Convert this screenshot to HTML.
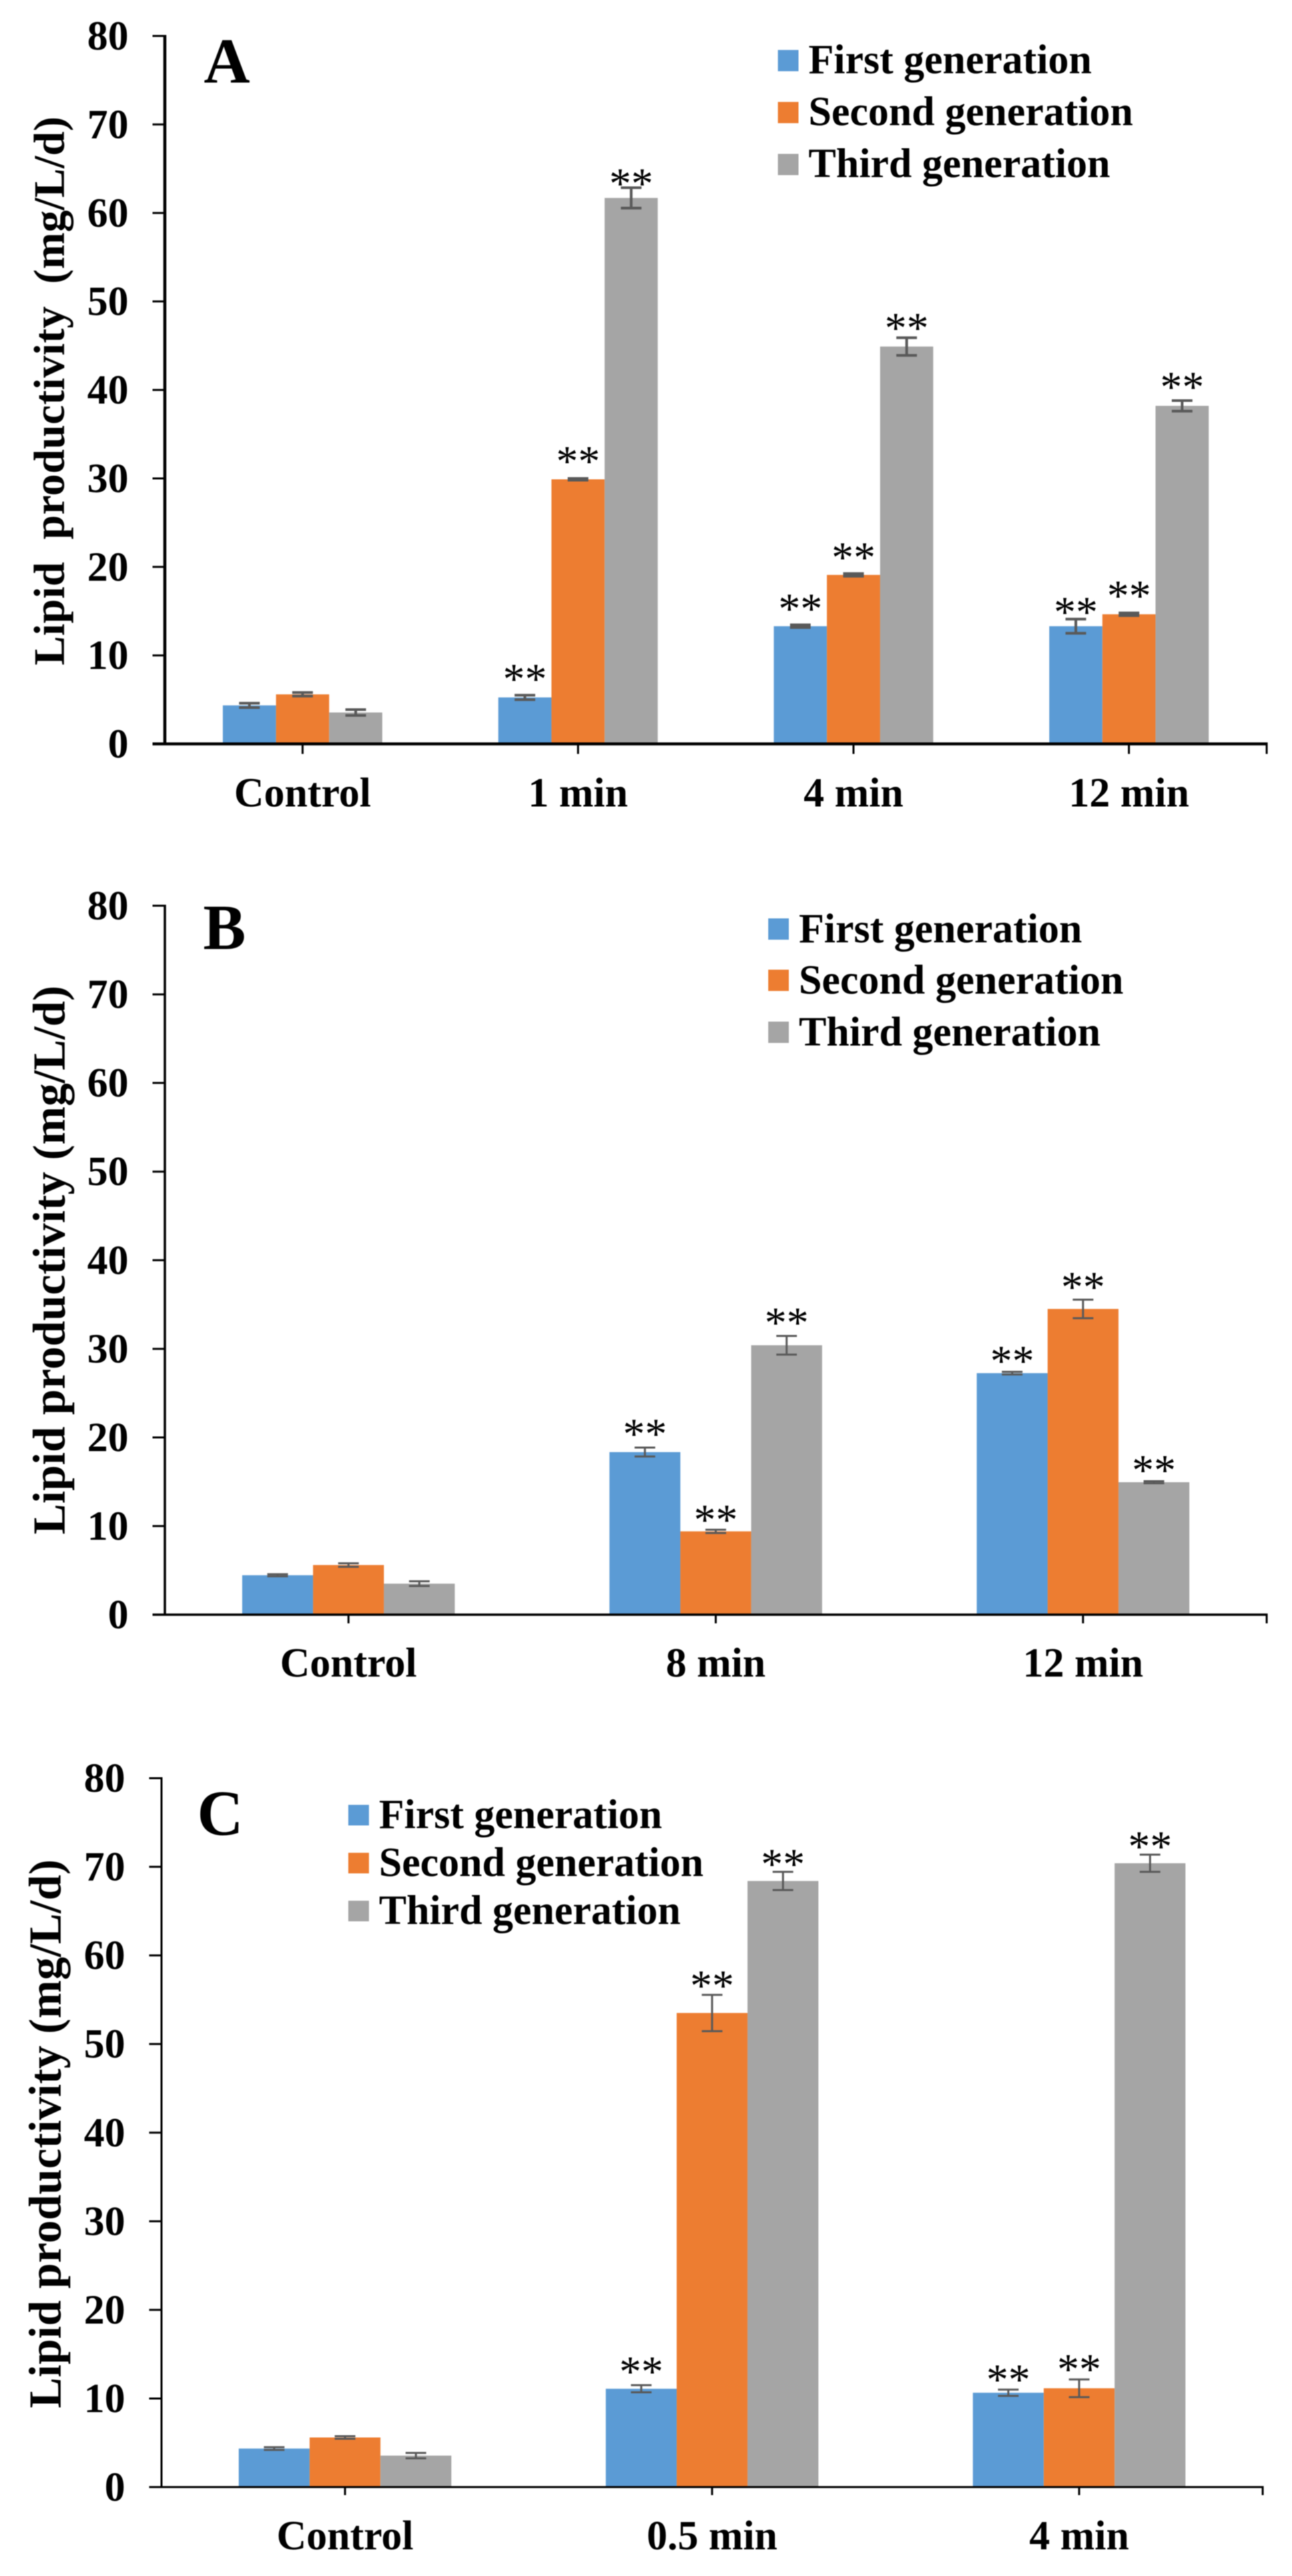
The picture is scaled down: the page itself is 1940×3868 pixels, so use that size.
<!DOCTYPE html>
<html lang="en">
<head>
<meta charset="utf-8">
<title>Lipid productivity by generation</title>
<style>
html,body{margin:0;padding:0;background:#fff;width:1940px;height:3868px;overflow:hidden}
svg{display:block;filter:blur(0.7px)}
text{font-family:"Liberation Serif",serif;fill:#000}
.b{font-weight:bold}
</style>
</head>
<body>
<svg id="fig" xmlns="http://www.w3.org/2000/svg" width="1940" height="3868" viewBox="0 0 1940 3868"></svg>
<script>
// Shared axis and legend data
const yTickLabels = [0, 10, 20, 30, 40, 50, 60, 70, 80];
const seriesNames = ['First generation', 'Second generation', 'Third generation'];
const yAxisMaximum = 80;

// Panel A
const panelACategories = ['Control', '1 min', '4 min', '12 min'];
const panelAFirst = [4.35, 5.25, 13.3, 13.3];
const panelASecond = [5.6, 29.9, 19.1, 14.65];
const panelAThird = [3.55, 61.7, 44.9, 38.2];
const panelAFirstErr = [0.25, 0.25, 0.15, 0.8];
const panelASecondErr = [0.2, 0.1, 0.15, 0.15];
const panelAThirdErr = [0.33, 1.15, 1.0, 0.6];
const panelAFirstStarLift = [null, 1.5, 1.5, 0.45];
const panelASecondStarLift = [null, 1.6, 1.5, 1.6];
const panelAThirdStarLift = [null, 0.15, 0.75, 1.2];

// Panel B
const panelBCategories = ['Control', '8 min', '12 min'];
const panelBFirst = [4.45, 18.35, 27.25];
const panelBSecond = [5.6, 9.4, 34.5];
const panelBThird = [3.5, 30.4, 14.95];
const panelBFirstErr = [0.12, 0.5, 0.15];
const panelBSecondErr = [0.2, 0.18, 1.05];
const panelBThirdErr = [0.27, 1.05, 0.12];
const panelBFirstStarLift = [null, 1.2, 0.9];
const panelBSecondStarLift = [null, 0.8, 1.1];
const panelBThirdStarLift = [null, 1.15, 0.9];

// Panel C
const panelCCategories = ['Control', '0.5 min', '4 min'];
const panelCFirst = [4.35, 11.1, 10.65];
const panelCSecond = [5.6, 53.5, 11.15];
const panelCThird = [3.55, 68.4, 70.4];
const panelCFirstErr = [0.15, 0.4, 0.35];
const panelCSecondErr = [0.15, 2.05, 1.0];
const panelCThirdErr = [0.3, 1.03, 0.97];
const panelCFirstStarLift = [null, 1.2, 0.8];
const panelCSecondStarLift = [null, 0.7, 0.8];
const panelCThirdStarLift = [null, 0.55, 0.6];

const seriesColors = ['#5B9BD5', '#ED7D31', '#A5A5A5'];
const NS = 'http://www.w3.org/2000/svg';
const fig = document.getElementById('fig');

function make(parent, tag, attrs, txt) {
  const el = document.createElementNS(NS, tag);
  for (const k in attrs) el.setAttribute(k, attrs[k]);
  if (txt !== undefined) el.textContent = txt;
  parent.appendChild(el);
  return el;
}

function drawPanel(cfg) {
  const g = make(fig, 'g', {});
  
  

  const yScale = v => cfg.y0 - (v / yAxisMaximum) * (cfg.y0 - cfg.y80);
  const band = (cfg.xRight - cfg.xAxis) / cfg.categories.length;
  const xCenter = i => cfg.xAxis + band * (i + 0.5);

  // Bars first, so that axes sit on top
  cfg.series.forEach((vals, s) => {
    vals.forEach((v, i) => {
      const x = xCenter(i) + (s - 1.5) * cfg.barW;
      const bar = make(g, 'rect', {x: x, y: yScale(v), width: cfg.barW, height: cfg.y0 - yScale(v), fill: seriesColors[s]});
      
      
    });
  });

  // Error bars and significance stars
  cfg.series.forEach((vals, s) => {
    vals.forEach((v, i) => {
      const cx = xCenter(i) + (s - 1) * cfg.barW;
      const e = cfg.errors[s][i];
      const hi = yScale(v + e);
      const lo = yScale(v - e);
      const eg = make(g, 'path', {d: 'M' + (cx - 15.5) + ' ' + hi + 'H' + (cx + 15.5) + 'M' + cx + ' ' + hi + 'V' + lo + 'M' + (cx - 15.5) + ' ' + lo + 'H' + (cx + 15.5), stroke: '#595959', 'stroke-width': cfg.errW, fill: 'none'});
      
      
      const lift = cfg.lifts[s][i];
      if (lift !== null) {
        const star = make(g, 'text', {x: cx, y: yScale(v + e + lift) + 17.5, 'text-anchor': 'middle', 'font-size': 66}, '**');
        
        
      }
    });
  });

  // Y axis
  const yAxis = make(g, 'line', {x1: cfg.xAxis, x2: cfg.xAxis, y1: cfg.y80 - 1.5, y2: cfg.y0 + 1.5, stroke: '#000', 'stroke-width': cfg.axisW});
  
  
  yTickLabels.forEach(t => {
    const y = yScale(t);
    const tick = make(g, 'line', {x1: cfg.xAxis - 18.5, x2: cfg.xAxis, y1: y, y2: y, stroke: '#000', 'stroke-width': 3});
    
    
    const lab = make(g, 'text', {x: cfg.xAxis - 54.5, y: y + 20.5, 'text-anchor': 'end', 'font-size': 62, class: 'b'}, String(t));
    
    
  });

  // X axis
  const xAxis = make(g, 'line', {x1: cfg.xAxis - 18.5, x2: cfg.xRight + 1.5, y1: cfg.y0, y2: cfg.y0, stroke: '#000', 'stroke-width': cfg.axisW});
  
  
  const endTick = make(g, 'line', {x1: cfg.xRight, x2: cfg.xRight, y1: cfg.y0, y2: cfg.y0 + cfg.tickLen, stroke: '#000', 'stroke-width': 3});
  
  
  cfg.categories.forEach((c, i) => {
    const tick = make(g, 'line', {x1: xCenter(i), x2: xCenter(i), y1: cfg.y0, y2: cfg.y0 + cfg.tickLen, stroke: '#000', 'stroke-width': 3});
    
    
    const lab = make(g, 'text', {x: xCenter(i), y: cfg.xLabelY, 'text-anchor': 'middle', 'font-size': 62, class: 'b'}, c);
    
    
  });

  // Y axis title
  const title = make(g, 'text', {transform: 'translate(' + cfg.titleX + ' ' + cfg.titleY + ') rotate(-90)', 'text-anchor': 'middle', 'font-size': cfg.titleSize, class: 'b', textLength: 824, lengthAdjust: 'spacing', style: 'white-space:pre'}, cfg.titleText);
  
  

  // Panel letter
  const letter = make(g, 'text', {x: cfg.letterX, y: cfg.letterY, 'font-size': 96, class: 'b'}, cfg.id);
  
  

  // Legend
  const leg = make(g, 'g', {});
  
  
  seriesNames.forEach((n, s) => {
    const swatch = make(leg, 'rect', {x: cfg.legX, y: cfg.legY[s] - cfg.swatchDrop, width: 31, height: cfg.swatchH, fill: seriesColors[s]});
    
    
    const lt = make(leg, 'text', {x: cfg.legX + 46, y: cfg.legY[s], 'font-size': 62, class: 'b'}, n);
    
    
  });
}

drawPanel({
  id: 'A', categories: panelACategories,
  series: [panelAFirst, panelASecond, panelAThird],
  errors: [panelAFirstErr, panelASecondErr, panelAThirdErr],
  lifts: [panelAFirstStarLift, panelASecondStarLift, panelAThirdStarLift],
  xAxis: 247.5, xRight: 1902, y0: 1117, y80: 54, barW: 79.8, axisW: 4.5, errW: 4, tickLen: 15, xLabelY: 1211,
  titleX: 96, titleY: 587, titleSize: 66, titleText: 'Lipid  productivity  (mg/L/d)',
  letterX: 306, letterY: 124, legX: 1168, legY: [110, 188, 266], swatchDrop: 35, swatchH: 32
});
drawPanel({
  id: 'B', categories: panelBCategories,
  series: [panelBFirst, panelBSecond, panelBThird],
  errors: [panelBFirstErr, panelBSecondErr, panelBThirdErr],
  lifts: [panelBFirstStarLift, panelBSecondStarLift, panelBThirdStarLift],
  xAxis: 247.5, xRight: 1902, y0: 2424.5, y80: 1360, barW: 106.4, axisW: 3.5, errW: 3, tickLen: 13, xLabelY: 2517.5,
  titleX: 97, titleY: 1892, titleSize: 69, titleText: 'Lipid productivity (mg/L/d)',
  letterX: 305, letterY: 1425, legX: 1153.5, legY: [1415, 1492, 1570], swatchDrop: 36, swatchH: 32
});
drawPanel({
  id: 'C', categories: panelCCategories,
  series: [panelCFirst, panelCSecond, panelCThird],
  errors: [panelCFirstErr, panelCSecondErr, panelCThirdErr],
  lifts: [panelCFirstStarLift, panelCSecondStarLift, panelCThirdStarLift],
  xAxis: 242.5, xRight: 1896, y0: 3734.5, y80: 2670, barW: 106.4, axisW: 3, errW: 3, tickLen: 12, xLabelY: 3828,
  titleX: 91, titleY: 3204, titleSize: 69, titleText: 'Lipid productivity (mg/L/d)',
  letterX: 296, letterY: 2755, legX: 523, legY: [2745, 2817, 2889], swatchDrop: 35, swatchH: 31
});
</script>
</body>
</html>
